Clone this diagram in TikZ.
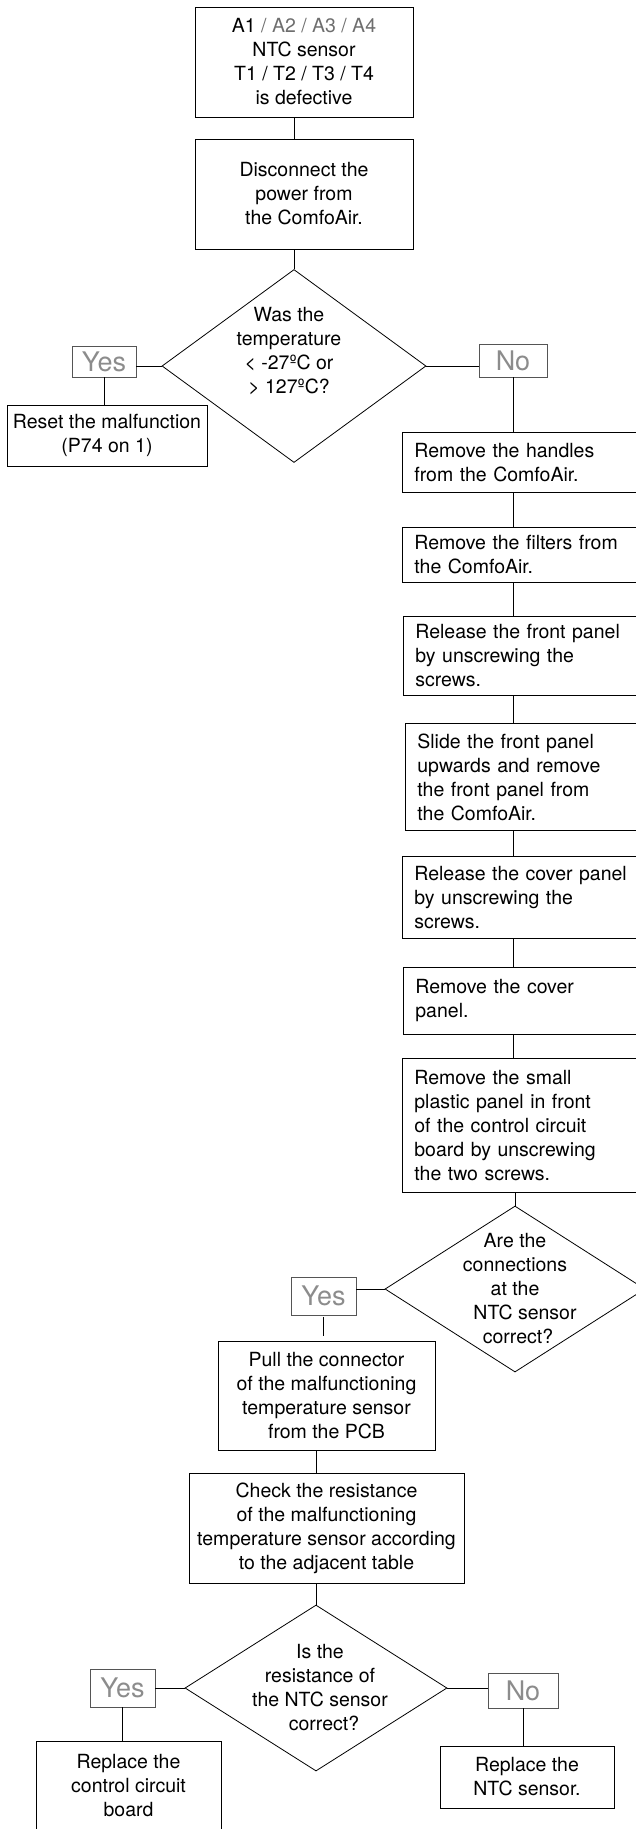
\documentclass[tikz,border=0pt]{standalone}
\usepackage{fontspec}
\setmainfont{TeX Gyre Heros}
\usepackage{tikz}
\usetikzlibrary{shapes.geometric,positioning}
\definecolor{answer}{HTML}{8C8C8C}
\definecolor{answerline}{HTML}{555555}
\definecolor{muted}{HTML}{6E6E6E}

\begin{document}
\begin{tikzpicture}[x=1pt,y=-1pt,
  plainbox/.style={draw=black,line width=0.8pt,align=center,inner sep=4pt,font=\fontsize{19.5}{24}\selectfont},
  stepbox/.style={plainbox,align=left,text width=236pt,inner xsep=12pt,anchor=north west},
  dec/.style={draw=black,diamond,inner sep=0pt,line width=0.8pt},
  qtext/.style={align=center,inner sep=0pt,font=\fontsize{19.5}{24}\selectfont},
  ans/.style={draw=answerline,line width=0.8pt,text=answer,inner sep=2pt,font=\fontsize{27}{30}\selectfont},
  link/.style={line width=0.8pt}]
  \useasboundingbox (0,0) rectangle (636,1829);
  \node[plainbox,minimum width=218pt,minimum height=110pt] (fault) at (304,62) {A1 \textcolor{muted}{/ A2 / A3 / A4}\\NTC sensor\\T1 / T2 / T3 / T4\\is defective};
  \node[plainbox,minimum width=218pt,minimum height=110pt] (power) at (304,194) {Disconnect the\\power from\\the ComfoAir.};
  \node[dec,minimum width=264pt,minimum height=193pt,label={[qtext,xshift=-5pt,yshift=15pt]center:{Was the\\temperature\\< -27ºC or\\> 127ºC?}}] (temp) at (294,366) {};
  \node[ans,minimum width=64pt,minimum height=31pt] (yes1) at (104,361.5) {Yes};
  \node[plainbox,minimum width=200pt,minimum height=61pt] (reset) at (107,435.5) {Reset the malfunction\\(P74 on 1)};
  \node[ans,minimum width=68pt,minimum height=33pt] (no1) at (513,360.5) {No};
  \node[stepbox,minimum height=60pt] (handles) at (402,432) {Remove the handles\\from the ComfoAir.};
  \node[stepbox,minimum height=55pt] (filters) at (402,527) {Remove the filters from\\the ComfoAir.};
  \node[stepbox,minimum height=79pt] (frontrel) at (403,616) {Release the front panel\\by unscrewing the\\screws.};
  \node[stepbox,minimum height=107pt] (frontoff) at (405,723) {Slide the front panel\\upwards and remove\\the front panel from\\the ComfoAir.};
  \node[stepbox,minimum height=82pt] (coverrel) at (402,856) {Release the cover panel\\by unscrewing the\\screws.};
  \node[stepbox,minimum height=67pt] (coveroff) at (403,967) {Remove the cover\\panel.};
  \node[stepbox,minimum height=134pt] (plastic) at (402,1058) {Remove the small\\plastic panel in front\\of the control circuit\\board by unscrewing\\the two screws.};
  \node[dec,minimum width=260pt,minimum height=166pt,label={[qtext]center:{Are the\\connections\\at the\\\hspace*{20pt}NTC sensor\\\hspace*{6pt}correct?}}] (conn) at (515,1289) {};
  \node[ans,minimum width=65pt,minimum height=38pt] (yes2) at (323.5,1296) {Yes};
  \node[plainbox,minimum width=217pt,minimum height=109pt] (pull) at (326.5,1395.5) {Pull the connector\\of the malfunctioning\\temperature sensor\\from the PCB};
  \node[plainbox,minimum width=275pt,minimum height=110pt] (check) at (326.5,1528) {Check the resistance\\of the malfunctioning\\temperature sensor according\\to the adjacent table};
  \node[dec,minimum width=262pt,minimum height=166pt,label={[qtext,xshift=4pt]center:{Is the\\resistance of\\the NTC sensor\\\hspace*{8pt}correct?}}] (resist) at (316,1688) {};
  \node[ans,minimum width=65pt,minimum height=38pt] (yes3) at (122.5,1688) {Yes};
  \node[plainbox,minimum width=185pt,minimum height=90pt] (board) at (128.5,1786) {Replace the\\control circuit\\board};
  \node[ans,minimum width=70pt,minimum height=35pt] (no3) at (523,1690.5) {No};
  \node[plainbox,minimum width=174pt,minimum height=62pt] (ntc) at (527,1777) {Replace the\\NTC sensor.};
  \draw[link] (fault.south -| temp.north) -- (power.north -| temp.north);
  \draw[link] (power.south -| temp.north) -- (temp.north);
  \draw[link] (temp.west) -- (temp.west -| yes1.east);
  \draw[link] (yes1.south) -- (reset.north -| yes1.south);
  \draw[link] (temp.east) -- (temp.east -| no1.west);
  \draw[link] (no1.south) -- (handles.north -| no1.south);
  \foreach \a/\b in {handles/filters,filters/frontrel,frontrel/frontoff,frontoff/coverrel,coverrel/coveroff,coveroff/plastic}
    \draw[link] (\a.south -| no1.south) -- (\b.north -| no1.south);
  \draw[link] (plastic.south -| conn.north) -- (conn.north);
  \draw[link] (conn.west) -- (conn.west -| yes2.east);
  \draw[link,shorten <=2pt,shorten >=5pt] (yes2.south) -- (pull.north -| yes2.south);
  \draw[link] (pull.south -| resist.north) -- (check.north -| resist.north);
  \draw[link] (check.south -| resist.north) -- (resist.north);
  \draw[link] (resist.west) -- (resist.west -| yes3.east);
  \draw[link] (yes3.south) -- (board.north -| yes3.south);
  \draw[link] (resist.east) -- (resist.east -| no3.west);
  \draw[link] (no3.south) -- (ntc.north -| no3.south);
\end{tikzpicture}
\end{document}
